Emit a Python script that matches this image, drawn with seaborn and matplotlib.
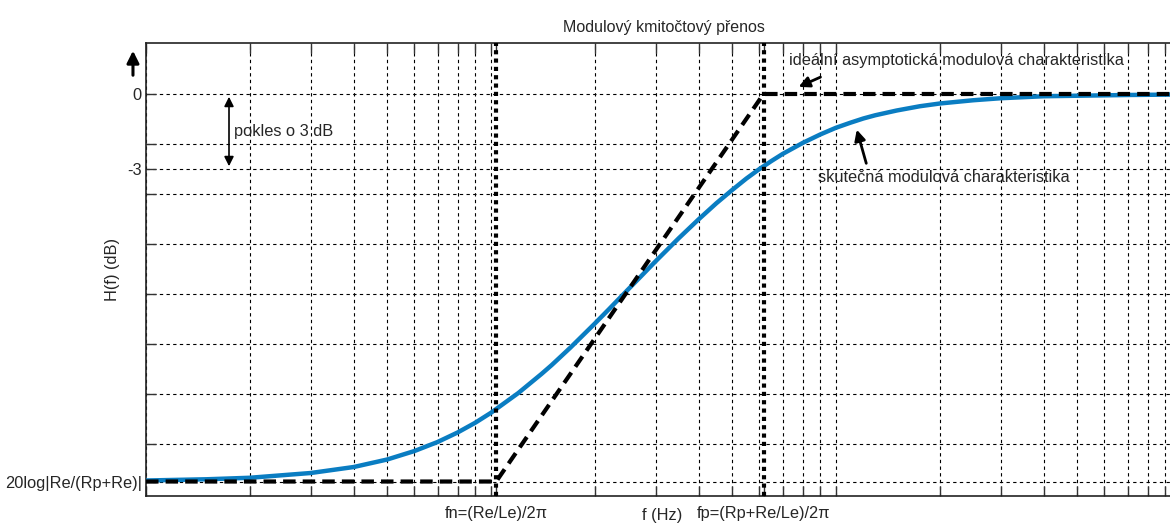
import numpy as np
import pandas as pd
import seaborn as sns
import matplotlib.pyplot as plt

# Data
freq = [1, 1.5, 2, 3, 4, 5, 6, 7, 8, 9, 10, 12, 14, 15, 17, 20, 22, 25, 27, 30, 35, 40,
        45, 50, 55, 60, 65, 70, 80, 90, 100, 110, 120, 130, 150, 175, 200, 250, 300,
        400, 500, 700, 1000]
h_db = [-15.46, -15.41, -15.35, -15.16, -14.92, -14.62, -14.28, -13.92, -13.54, -13.15,
        -12.75, -11.96, -11.20, -10.84, -10.14, -9.18, -8.60, -7.81, -7.34, -6.69, -5.77,
        -5.01, -4.37, -3.84, -3.38, -3.00, -2.68, -2.40, -1.96, -1.62, -1.35, -1.15, -0.98,
        -0.85, -0.66, -0.49, -0.38, -0.25, -0.17, -0.09, -0.07, -0.04, -0.02]
fn = 10.35
fp = 61.65
low = -15.5
asym_f = [1, fn, fp, 1000]
asym_db = [low, low, 0, 0]
grid_db = [-14, -12, -10, -8, -6, -4, -2]
label_db = [low, -3, 0]
label_db_txt = ['20log|Re/(Rp+Re)|', '-3', '0']
x_labels = ['fn=(Re/Le)/2\u03c0', 'fp=(Rp+Re/Le)/2\u03c0']

curve = pd.DataFrame({'f': freq, 'H': h_db})
asym = pd.DataFrame({'f': asym_f, 'H': asym_db})

sns.set_theme(style='white')
plt.rcParams['font.family'] = ['Liberation Sans', 'DejaVu Sans']
fs = 11.8

fig = plt.figure(figsize=(11.7, 5.23), dpi=100)
ax = fig.add_axes([0.1248, 0.0516, 0.8846, 0.8662])
ax.set_xscale('log')

sns.lineplot(data=curve, x='f', y='H', ax=ax, color='#0a7dc2', lw=3.2, zorder=3)
sns.lineplot(data=asym, x='f', y='H', ax=ax, color='black', lw=3, zorder=4,
             dashes=False, linestyle=(0, (3, 1.7)))
for fv in [fn, fp]:
    ax.axvline(fv, color='black', lw=3, linestyle=(0, (1, 1)), zorder=5)

ax.set_xlim(1, 1000)
ax.set_ylim(-16.08, 2.04)

minor_x = [m * 10 ** d for d in range(3) for m in range(1, 10)]
ax.set_xticks(minor_x, minor=True)
ax.set_xticks([fn, fp])
ax.set_xticklabels(x_labels, fontsize=fs)
ax.xaxis.set_minor_formatter(plt.NullFormatter())
ax.set_yticks(label_db)
ax.set_yticklabels(label_db_txt, fontsize=fs)
ax.set_yticks(grid_db, minor=True)

gkw = dict(color='black', lw=0.8, linestyle=(0, (3, 3)))
ax.grid(True, which='both', axis='y', **gkw)
ax.grid(True, which='minor', axis='x', **gkw)
ax.xaxis.grid(False, which='major')

ax.tick_params(axis='both', which='both', direction='in', length=7, width=1,
               color='#333333', top=True, bottom=True, left=True, right=False)
ax.tick_params(axis='x', which='major', pad=7)
ax.tick_params(axis='y', which='major', pad=3)
for s in ['left', 'top', 'bottom']:
    ax.spines[s].set_color('#222222')
    ax.spines[s].set_linewidth(1.2)
ax.spines['right'].set_visible(False)

ax.set_title('Modulový kmitočtový přenos', fontsize=11.5, pad=8)
ax.set_xlabel('f (Hz)', fontsize=fs)
ax.xaxis.set_label_coords(0.4986, -0.026)
ax.set_ylabel('H(f) (dB)', fontsize=fs)
ax.yaxis.set_label_coords(-0.025, 0.5)

# y axis direction arrow
ax.annotate('', xy=(-0.0126, 0.989), xytext=(-0.0126, 0.9227),
            xycoords='axes fraction', textcoords='axes fraction', annotation_clip=False,
            arrowprops=dict(arrowstyle='-|>', color='black', lw=2.2, mutation_scale=18))

# 3 dB drop
ax.annotate('', xy=(1.74, 0), xytext=(1.74, -3),
            arrowprops=dict(arrowstyle='<|-|>', color='black', lw=1.2, mutation_scale=14))
ax.text(1.80, -1.52, 'pokles o 3 dB', fontsize=fs, va='center', ha='left')

ax.text(73.1, 1.32, 'ideální asymptotická modulová charakteristika', fontsize=fs,
        va='center', ha='left')
ax.annotate('', xy=(76.6, 0.24), xytext=(91.7, 0.72),
            arrowprops=dict(arrowstyle='-|>', color='black', lw=2, mutation_scale=16))

ax.text(88.7, -3.36, 'skutečná modulová charakteristika', fontsize=fs,
        va='center', ha='left')
ax.annotate('', xy=(114.3, -1.32), xytext=(123, -2.88),
            arrowprops=dict(arrowstyle='-|>', color='black', lw=2, mutation_scale=16))

fig.savefig('out.png', dpi=100)
